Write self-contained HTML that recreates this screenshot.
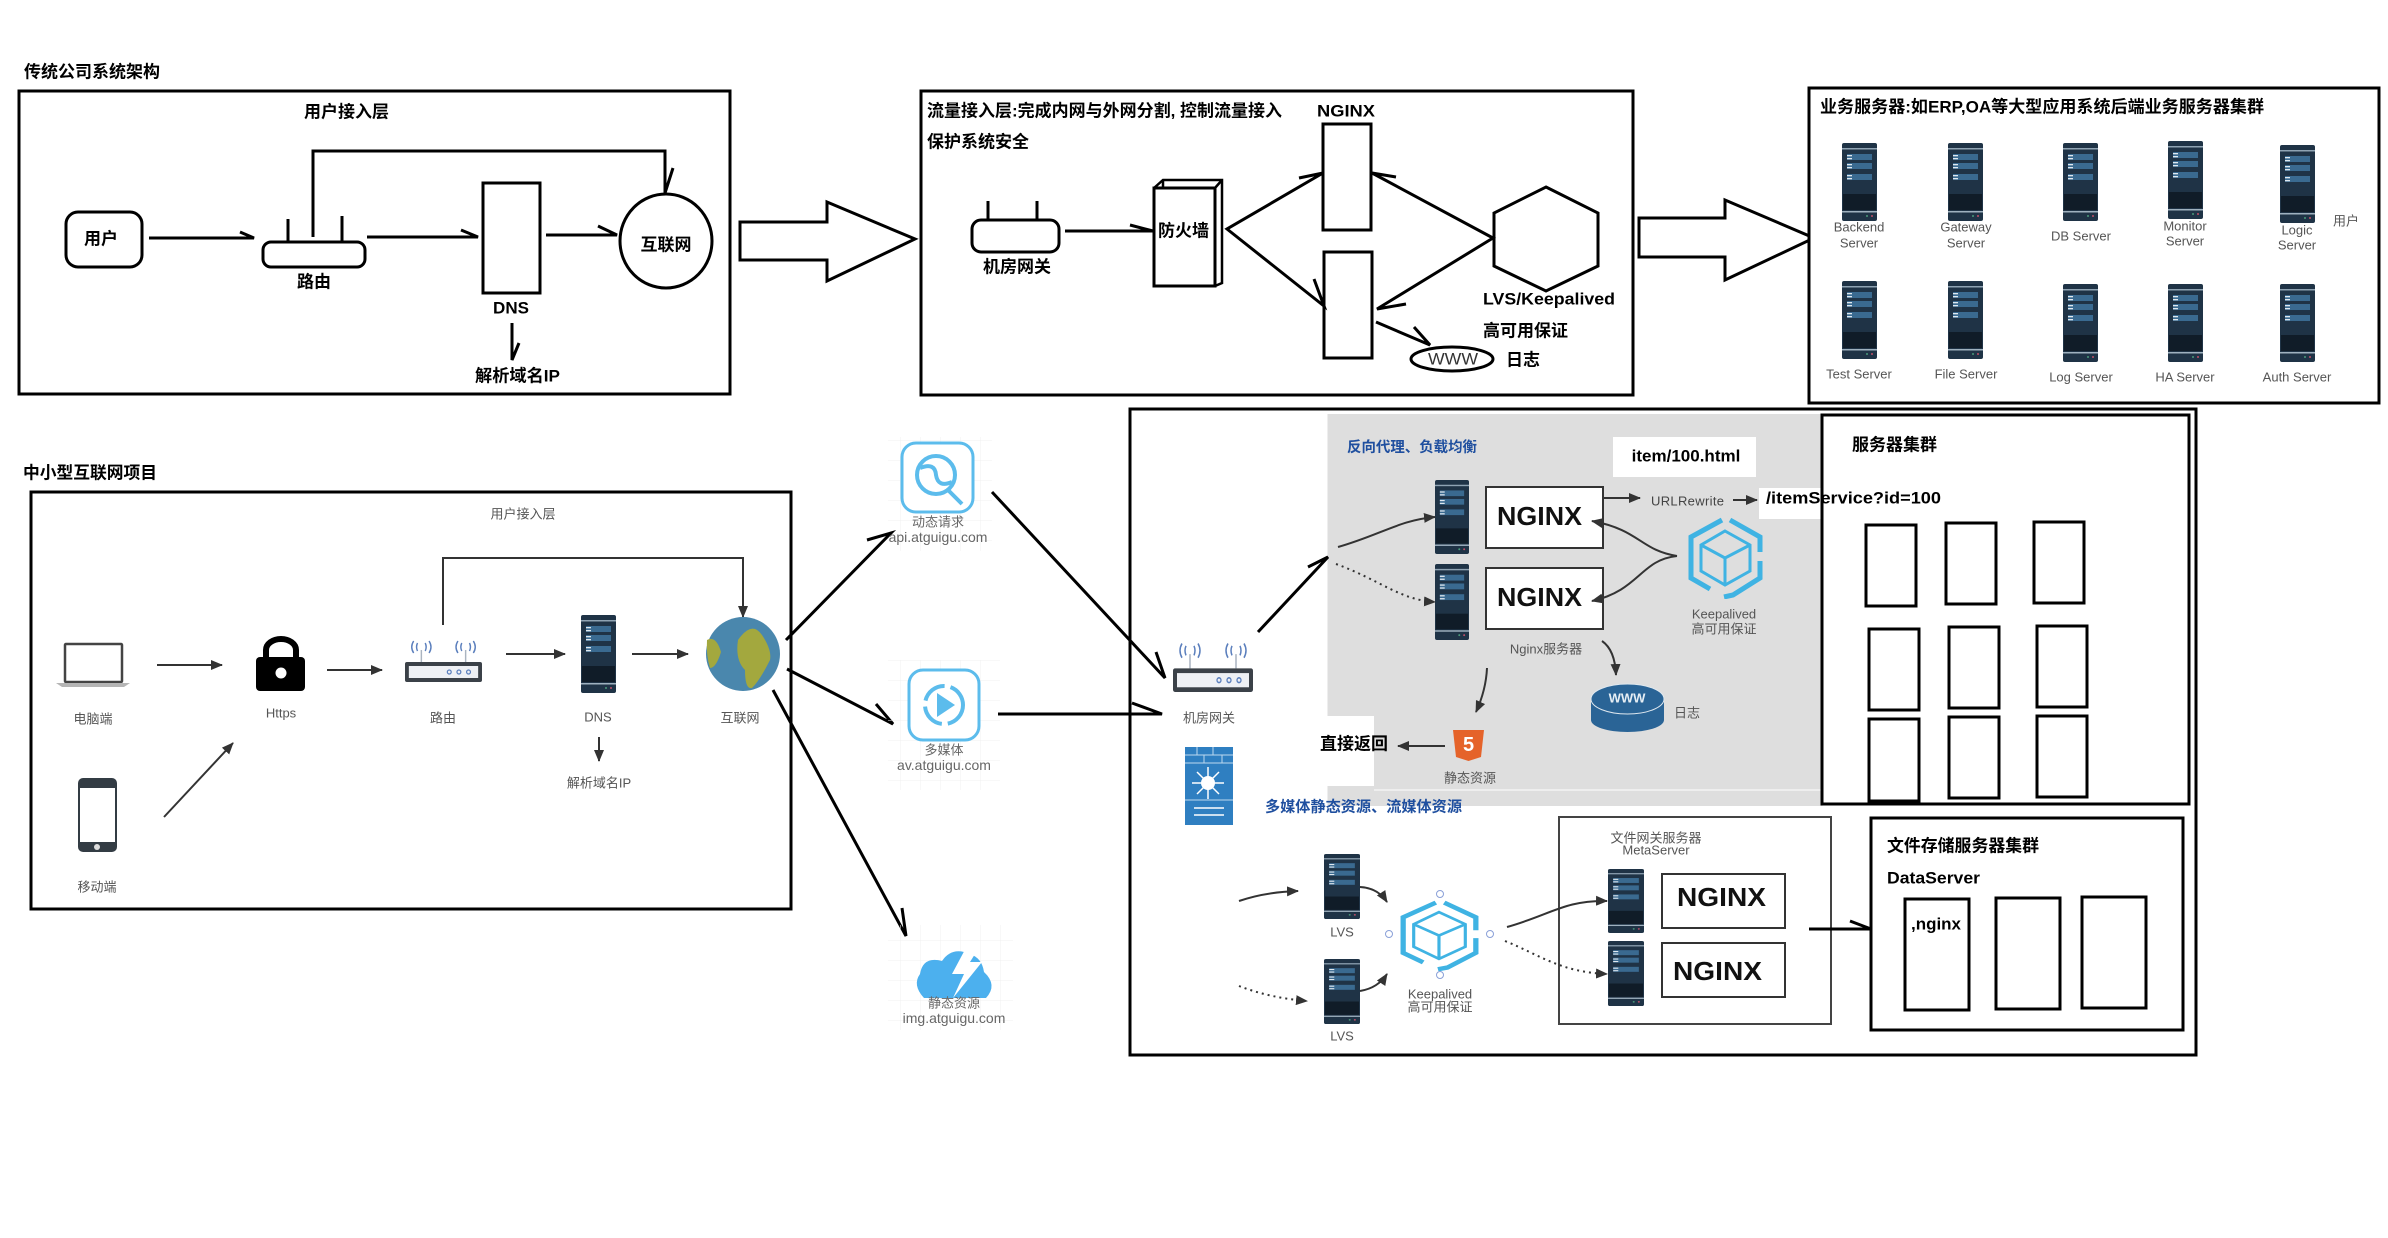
<!DOCTYPE html>
<html lang="zh">
<head>
<meta charset="utf-8">
<title>系统架构</title>
<style>
html,body{margin:0;padding:0;background:#fff;width:2388px;height:1238px;overflow:hidden}
svg{display:block}
text{font-family:"Liberation Sans","Noto Sans CJK SC",sans-serif;dominant-baseline:central}
.b{font-weight:700;font-size:17px;fill:#000}
.g{font-size:13px;fill:#555}
.m{text-anchor:middle}
.s{fill:#fff;stroke:#000;stroke-width:3}
.k{fill:none;stroke:#000;stroke-width:3}
.a{fill:none;stroke:#333;stroke-width:2}
.d{fill:none;stroke:#333;stroke-width:2;stroke-dasharray:2 4}
.ng{font-weight:700;font-size:26px;fill:#111}
</style>
</head>
<body>
<svg width="2388" height="1238" viewBox="0 0 2388 1238" xmlns="http://www.w3.org/2000/svg">
<defs>
<marker id="ah2" markerWidth="12" markerHeight="10" refX="11" refY="5" orient="auto" markerUnits="userSpaceOnUse" viewBox="0 0 12 10"><path d="M0 0L12 5L0 10Z" fill="#333"/></marker>
<pattern id="grid" width="20" height="20" patternUnits="userSpaceOnUse"><path d="M20 0H0V20" fill="none" stroke="#f0f0f0" stroke-width="1"/></pattern>
<symbol id="srv" viewBox="0 0 35 78" preserveAspectRatio="none">
<rect width="35" height="78" rx="2" fill="#1f3346"/>
<rect y="5" width="35" height="1.5" fill="#8fa3b3"/>
<rect x="5" y="11" width="25" height="6" fill="#3a6a90"/><rect x="5" y="20" width="25" height="6" fill="#3a6a90"/><rect x="5" y="31" width="25" height="6" fill="#3a6a90"/>
<rect x="5" y="12" width="5" height="1.3" fill="#dfe8ef"/><rect x="5" y="15" width="5" height="1.3" fill="#dfe8ef"/><rect x="5" y="21" width="5" height="1.3" fill="#dfe8ef"/><rect x="5" y="24" width="5" height="1.3" fill="#dfe8ef"/><rect x="5" y="32" width="5" height="1.3" fill="#dfe8ef"/><rect x="5" y="35" width="5" height="1.3" fill="#dfe8ef"/>
<rect x="1" y="51" width="33" height="16" fill="#101c28"/>
<rect y="68" width="35" height="1.5" fill="#9fb1bf"/>
<circle cx="25" cy="73" r="1" fill="#4a9a7a"/><circle cx="30" cy="73" r="1" fill="#c0506a"/>
</symbol>
<symbol id="hexk" viewBox="0 0 75 82" preserveAspectRatio="none">
<g fill="none" stroke="#3fb3e3" stroke-width="5">
<path d="M34 3L3 20V61L22 72M42 3L72 20V35M72 44V61L45 78L36 80"/>
<path d="M37 14L62 28V54L37 68L13 54V28Z" stroke-width="3"/>
<path d="M13 28L37 41L62 28M37 41V68" stroke-width="3"/>
</g>
</symbol>
<symbol id="router" viewBox="0 0 80 44" preserveAspectRatio="none">
<g fill="none" stroke="#aab4c0" stroke-width="1.5"><path d="M17 12V24M63 12V24"/></g>
<g fill="none" stroke="#5b7fbd" stroke-width="1.5"><path d="M13 5Q11 9 13 13M21 5Q23 9 21 13M9 3Q5 9 9 15M25 3Q29 9 25 15M59 5Q57 9 59 13M67 5Q69 9 67 13M55 3Q51 9 55 15M71 3Q75 9 71 15"/></g>
<rect y="24" width="80" height="20" rx="2" fill="#3b4148"/><rect x="4" y="28" width="72" height="12" fill="#eef0f4"/>
<g fill="none" stroke="#5b7fbd" stroke-width="1.3"><circle cx="46" cy="34" r="2"/><circle cx="56" cy="34" r="2"/><circle cx="66" cy="34" r="2"/></g>
</symbol>
</defs>

<!-- Box 1 -->
<text x="24" y="72" class="b" textLength="136" lengthAdjust="spacingAndGlyphs">传统公司系统架构</text>
<rect x="19" y="91" width="711" height="303" class="s"/>
<text x="304" y="112" class="b" textLength="85" lengthAdjust="spacingAndGlyphs">用户接入层</text>
<path d="M313 237V151H665V193L673 168" class="k"/>
<rect x="66" y="212" width="76" height="55" rx="12" class="s"/>
<text x="101" y="239" class="b m">用户</text>
<path d="M149 238H254L240 232" class="k"/>
<rect x="263" y="242" width="102" height="25" rx="8" class="s"/>
<path d="M288 219V242M342 216V242" class="k"/>
<text x="314" y="282" class="b m">路由</text>
<path d="M367 237H478L461 230" class="k"/>
<rect x="483" y="183" width="57" height="110" class="s"/>
<text x="511" y="308" class="b m">DNS</text>
<path d="M512 323V360L519 343" class="k"/>
<text x="475" y="376" class="b" textLength="85" lengthAdjust="spacingAndGlyphs">解析域名IP</text>
<path d="M546 235H617L598 226" class="k"/>
<ellipse cx="666" cy="241" rx="46" ry="47" class="s"/>
<text x="666" y="245" class="b m">互联网</text>
<path d="M740 222H827V202L915 239L827 281V260H740Z" class="s"/>

<!-- Box 2 -->
<rect x="921" y="91" width="712" height="304" class="s"/>
<text x="927" y="111" class="b" textLength="355" lengthAdjust="spacingAndGlyphs">流量接入层:完成内网与外网分割, 控制流量接入</text>
<text x="927" y="142" class="b">保护系统安全</text>
<text x="1317" y="111" class="b" textLength="58" lengthAdjust="spacingAndGlyphs">NGINX</text>
<rect x="1323" y="124" width="48" height="106" class="s"/>
<rect x="1324" y="252" width="48" height="106" class="s"/>
<path d="M1546 187L1598 213V266L1546 291L1494 266V213Z" class="s"/>
<text x="1483" y="299" class="b" textLength="132" lengthAdjust="spacingAndGlyphs">LVS/Keepalived</text>
<text x="1483" y="331" class="b">高可用保证</text>
<text x="1506" y="360" class="b">日志</text>
<ellipse cx="1452" cy="359" rx="41" ry="12" class="s"/>
<text x="1453" y="359" class="m" font-size="17" fill="#333" textLength="50" lengthAdjust="spacingAndGlyphs">WWW</text>
<rect x="972" y="220" width="87" height="32" rx="9" class="s"/>
<path d="M988 201V220M1037 201V220" class="k"/>
<text x="1017" y="267" class="b m">机房网关</text>
<path d="M1065 231H1153L1130 225" class="k"/>
<path d="M1154 188L1163 180H1222V283L1215 286" class="k" style="stroke-width:2.5"/>
<path d="M1215 188L1222 180M1163 180V188" class="k" style="stroke-width:2.5"/>
<rect x="1154" y="188" width="61" height="98" class="s"/>
<text x="1158" y="231" class="b" textLength="51" lengthAdjust="spacingAndGlyphs">防火墙</text>
<path d="M1299 178L1323 173L1227 229L1324 306L1314 279" class="k"/>
<path d="M1396 177L1372 173L1493 238L1377 309L1406 304" class="k"/>
<path d="M1376 322L1430 345L1414 327" class="k"/>
<path d="M1639 218H1725V200L1814 238L1725 280V257H1639Z" class="s"/>

<!-- Box 3 -->
<rect x="1809" y="88" width="570" height="315" class="s"/>
<text x="1820" y="107" class="b" textLength="444" lengthAdjust="spacingAndGlyphs">业务服务器:如ERP,OA等大型应用系统后端业务服务器集群</text>
<use href="#srv" x="1842" y="143" width="35" height="78"/>
<use href="#srv" x="1948" y="143" width="35" height="78"/>
<use href="#srv" x="2063" y="143" width="35" height="78"/>
<use href="#srv" x="2168" y="141" width="35" height="78"/>
<use href="#srv" x="2280" y="145" width="35" height="78"/>
<use href="#srv" x="1842" y="281" width="35" height="78"/>
<use href="#srv" x="1948" y="281" width="35" height="78"/>
<use href="#srv" x="2063" y="284" width="35" height="78"/>
<use href="#srv" x="2168" y="284" width="35" height="78"/>
<use href="#srv" x="2280" y="284" width="35" height="78"/>
<text x="1859" y="227" class="g m">Backend</text><text x="1859" y="243" class="g m">Server</text>
<text x="1966" y="227" class="g m">Gateway</text><text x="1966" y="243" class="g m">Server</text>
<text x="2081" y="236" class="g m">DB Server</text>
<text x="2185" y="226" class="g m">Monitor</text><text x="2185" y="241" class="g m">Server</text>
<text x="2297" y="230" class="g m">Logic</text><text x="2297" y="245" class="g m">Server</text>
<text x="2346" y="221" class="g m">用户</text>
<text x="1859" y="374" class="g m">Test Server</text>
<text x="1966" y="374" class="g m">File Server</text>
<text x="2081" y="377" class="g m">Log Server</text>
<text x="2185" y="377" class="g m">HA Server</text>
<text x="2297" y="377" class="g m">Auth Server</text>

<!-- Box 4 -->
<text x="23" y="473" class="b" textLength="134" lengthAdjust="spacingAndGlyphs">中小型互联网项目</text>
<rect x="31" y="492" width="760" height="417" class="s"/>
<text x="523" y="514" class="g m">用户接入层</text>
<rect x="65" y="644" width="57" height="38" rx="1" fill="#fff" stroke="#444" stroke-width="2.5"/>
<path d="M56 683H130L124 687H62Z" fill="#b5b5b5"/>
<text x="93" y="719" class="g m">电脑端</text>
<path d="M157 665H222" class="a" marker-end="url(#ah2)"/>
<rect x="256" y="657" width="49" height="34" rx="4" fill="#000"/>
<path d="M266 658V650A15 11 0 0 1 296 650V658" fill="none" stroke="#000" stroke-width="6"/>
<circle cx="281" cy="673" r="5.5" fill="#fff"/>
<text x="281" y="713" class="g m">Https</text>
<path d="M327 670H382" class="a" marker-end="url(#ah2)"/>
<use href="#router" x="405" y="638" width="77" height="44"/>
<text x="443" y="718" class="g m">路由</text>
<path d="M443 625V558H743V617" class="a" marker-end="url(#ah2)"/>
<path d="M506 654H565" class="a" marker-end="url(#ah2)"/>
<use href="#srv" x="581" y="615" width="35" height="78"/>
<text x="598" y="717" class="g m">DNS</text>
<path d="M599 737V761" class="a" marker-end="url(#ah2)"/>
<text x="599" y="783" class="g m">解析域名IP</text>
<path d="M632 654H688" class="a" marker-end="url(#ah2)"/>
<circle cx="743" cy="654" r="37" fill="#4a87ad"/>
<path d="M738 640Q752 620 762 635Q772 650 770 660Q760 680 752 688Q745 690 745 670Q735 660 738 640Z" fill="#a3a83e"/>
<path d="M707 640Q716 635 721 652Q716 668 710 668Q706 655 707 640Z" fill="#a3a83e"/>
<text x="740" y="718" class="g m">互联网</text>
<rect x="78" y="778" width="39" height="74" rx="5" fill="#333c44"/>
<rect x="80" y="788" width="35" height="54" fill="#fff"/>
<circle cx="97" cy="847" r="3" fill="#ddd"/>
<text x="97" y="887" class="g m">移动端</text>
<path d="M164 817L233 743" class="a" marker-end="url(#ah2)"/>

<path d="M786 640L891 533L867 540" class="k"/>
<path d="M787 669L893 724L876 704" class="k"/>
<path d="M773 690L906 936L902 908" class="k"/>

<!-- Middle icons -->
<rect x="888" y="437" width="104" height="114" fill="url(#grid)"/>
<rect x="888" y="660" width="112" height="130" fill="url(#grid)"/>
<rect x="888" y="925" width="125" height="105" fill="url(#grid)"/>
<rect x="902" y="443" width="71" height="69" rx="14" fill="#fff" stroke="#5cbcec" stroke-width="3"/>
<circle cx="936" cy="475" r="19" fill="none" stroke="#5cbcec" stroke-width="4"/>
<path d="M920 468Q935 462 936 475Q938 488 952 482M948 490L962 504" fill="none" stroke="#5cbcec" stroke-width="4"/>
<text x="938" y="522" class="m" font-size="13" fill="#666">动态请求</text>
<text x="938" y="537" class="m" font-size="14" fill="#666">api.atguigu.com</text>
<rect x="909" y="670" width="70" height="70" rx="14" fill="#fff" stroke="#5cbcec" stroke-width="3"/>
<circle cx="944" cy="705" r="19" fill="none" stroke="#5cbcec" stroke-width="4" stroke-dasharray="26 6"/>
<path d="M937 693L955 705L937 717Z" fill="#5cbcec"/>
<text x="944" y="750" class="m" font-size="13" fill="#666">多媒体</text>
<text x="944" y="765" class="m" font-size="14" fill="#666">av.atguigu.com</text>
<path d="M924 998Q912 985 920 974Q923 956 942 961Q952 946 970 954Q982 958 984 972Q998 985 986 998Z" fill="#4cb0ee"/>
<path d="M968 944L952 974H964L953 998L982 962H970L980 946Z" fill="#fff"/>
<text x="954" y="1003" class="m" font-size="13" fill="#666">静态资源</text>
<text x="954" y="1018" class="m" font-size="14" fill="#666">img.atguigu.com</text>

<!-- Box 5 -->
<rect x="1130" y="409" width="1066" height="646" fill="none" stroke="#000" stroke-width="3"/>
<path d="M992 492L1165 678L1156 652" class="k"/>
<path d="M998 714H1162L1132 703" class="k"/>
<use href="#router" x="1173" y="640" width="80" height="52"/>
<text x="1209" y="718" class="g m">机房网关</text>
<rect x="1185" y="747" width="48" height="78" fill="#2f7fc1"/>
<path d="M1185 755H1233M1185 763H1233M1197 747V755M1213 747V755M1222 755V763M1204 755V763M1185 800H1233" stroke="#bcd8ee" stroke-width="1"/>
<circle cx="1208" cy="783" r="7" fill="#fff"/>
<path d="M1192 783H1224M1208 767V799M1197 772L1219 794M1219 772L1197 794M1194 808H1224M1194 815H1224" stroke="#fff" stroke-width="1.5"/>

<!-- Gray panel -->
<rect x="1327.5" y="414" width="495" height="392" fill="#dedede"/>
<rect x="1310" y="716" width="64" height="70" fill="#fff"/>
<path d="M1374 790H1822" stroke="#fff" stroke-width="1"/>
<path d="M1258 632L1328 557L1308 567" class="k"/>
<text x="1347" y="448" font-size="14.5" font-weight="700" fill="#1f4f9f" textLength="130" lengthAdjust="spacingAndGlyphs">反向代理、负载均衡</text>
<rect x="1613" y="437" width="143" height="40" fill="#fff"/>
<text x="1686" y="456" class="b m">item/100.html</text>
<use href="#srv" x="1435" y="480" width="34" height="74"/>
<use href="#srv" x="1435" y="564" width="34" height="76"/>
<rect x="1486" y="487" width="117" height="61" fill="#fff" stroke="#333" stroke-width="2"/>
<rect x="1486" y="568" width="117" height="61" fill="#fff" stroke="#333" stroke-width="2"/>
<text x="1497" y="516" class="ng" textLength="85" lengthAdjust="spacingAndGlyphs">NGINX</text>
<text x="1497" y="597" class="ng" textLength="85" lengthAdjust="spacingAndGlyphs">NGINX</text>
<path d="M1603 498H1640" class="a" marker-end="url(#ah2)"/>
<text x="1651" y="501" font-size="13" fill="#444" textLength="73">URLRewrite</text>
<path d="M1733 500H1757" class="a" marker-end="url(#ah2)"/>
<use href="#hexk" x="1688" y="517" width="75" height="82"/>
<text x="1724" y="614" class="g m">Keepalived</text>
<text x="1724" y="629" class="g m">高可用保证</text>
<path d="M1677 556C1640 550 1640 530 1592 521" class="a" marker-end="url(#ah2)"/>
<path d="M1677 556C1640 560 1640 590 1592 601" class="a" marker-end="url(#ah2)"/>
<path d="M1338 547C1380 535 1400 520 1435 517" class="a" marker-end="url(#ah2)"/>
<path d="M1336 564C1380 580 1400 600 1435 602" class="d" marker-end="url(#ah2)"/>
<text x="1546" y="649" class="g m">Nginx服务器</text>
<path d="M1602 641Q1615 650 1616 675" class="a" marker-end="url(#ah2)"/>
<path d="M1487 668Q1486 690 1476 712" class="a" marker-end="url(#ah2)"/>
<path d="M1591 700V720A36.5 12 0 0 0 1664 720V700Z" fill="#2a6496"/>
<ellipse cx="1627.5" cy="699" rx="36.5" ry="15" fill="#2a6496" stroke="#dfe8ef" stroke-width="1"/>
<text x="1627" y="698" class="m" font-size="13" font-weight="700" fill="#e6eef4">WWW</text>
<text x="1687" y="713" class="g m">日志</text>
<path d="M1453 730H1484L1481 757L1468.5 761L1456 757Z" fill="#e5632a"/>
<text x="1468.5" y="745" class="m" font-size="20" font-weight="700" fill="#fff">5</text>
<text x="1470" y="778" class="g m">静态资源</text>
<path d="M1445 746H1398" class="a" marker-end="url(#ah2)"/>
<text x="1320" y="744" class="b" textLength="68" lengthAdjust="spacingAndGlyphs">直接返回</text>
<text x="1265" y="807" font-size="15" font-weight="700" fill="#1f4f9f" textLength="197" lengthAdjust="spacingAndGlyphs">多媒体静态资源、流媒体资源</text>

<!-- Cluster -->
<rect x="1822" y="415" width="367" height="389" fill="#fff" stroke="#000" stroke-width="3"/>
<rect x="1759" y="488" width="63" height="31" fill="#fff"/>
<text x="1766" y="498" class="b" textLength="175" lengthAdjust="spacingAndGlyphs">/itemService?id=100</text>
<path d="M1822 415V804" stroke="#000" stroke-width="3"/>
<text x="1852" y="445" class="b" textLength="85" lengthAdjust="spacingAndGlyphs">服务器集群</text>
<rect x="1866" y="525" width="50" height="81" class="s"/>
<rect x="1946" y="523" width="50" height="81" class="s"/>
<rect x="2034" y="522" width="50" height="81" class="s"/>
<rect x="1869" y="629" width="50" height="81" class="s"/>
<rect x="1949" y="627" width="50" height="81" class="s"/>
<rect x="2037" y="626" width="50" height="81" class="s"/>
<rect x="1869" y="719" width="50" height="82" class="s"/>
<rect x="1949" y="717" width="50" height="81" class="s"/>
<rect x="2037" y="716" width="50" height="81" class="s"/>

<!-- File storage -->
<rect x="1871" y="818" width="312" height="212" class="s"/>
<text x="1887" y="846" class="b" textLength="152" lengthAdjust="spacingAndGlyphs">文件存储服务器集群</text>
<text x="1887" y="878" class="b" textLength="93" lengthAdjust="spacingAndGlyphs">DataServer</text>
<rect x="1905" y="899" width="64" height="111" class="s"/>
<rect x="1996" y="898" width="64" height="111" class="s"/>
<rect x="2082" y="897" width="64" height="111" class="s"/>
<text x="1911" y="924" class="b" textLength="50" lengthAdjust="spacingAndGlyphs">,nginx</text>

<!-- Lower gateway group -->
<rect x="1559" y="817" width="272" height="207" fill="#fff" stroke="#444" stroke-width="2"/>
<text x="1656" y="838" class="g m">文件网关服务器</text>
<text x="1656" y="850" class="g m">MetaServer</text>
<path d="M1809 929H1871L1850 921" class="k"/>
<use href="#srv" x="1324" y="854" width="36" height="65"/>
<use href="#srv" x="1324" y="959" width="36" height="65"/>
<text x="1342" y="932" class="g m">LVS</text>
<text x="1342" y="1036" class="g m">LVS</text>
<path d="M1239 901Q1265 892 1298 891" class="a" marker-end="url(#ah2)"/>
<path d="M1239 986Q1270 998 1307 1001" class="d" marker-end="url(#ah2)"/>
<path d="M1360 887Q1378 888 1387 902" class="a" marker-end="url(#ah2)"/>
<path d="M1360 991Q1378 988 1387 974" class="a" marker-end="url(#ah2)"/>
<use href="#hexk" x="1400" y="900" width="79" height="71"/>
<g fill="#fff" stroke="#8aa0d8" stroke-width="1"><circle cx="1440" cy="894" r="3.5"/><circle cx="1440" cy="975" r="3.5"/><circle cx="1490" cy="934" r="3.5"/><circle cx="1389" cy="934" r="3.5"/></g>
<text x="1440" y="994" class="g m">Keepalived</text>
<text x="1440" y="1007" class="g m">高可用保证</text>
<path d="M1507 927C1550 915 1565 900 1607 901" class="a" marker-end="url(#ah2)"/>
<path d="M1505 941C1540 955 1560 972 1607 974" class="d" marker-end="url(#ah2)"/>
<use href="#srv" x="1608" y="869" width="36" height="64"/>
<use href="#srv" x="1608" y="941" width="36" height="65"/>
<rect x="1662" y="874" width="123" height="54" fill="#fff" stroke="#333" stroke-width="2"/>
<rect x="1662" y="943" width="123" height="54" fill="#fff" stroke="#333" stroke-width="2"/>
<text x="1677" y="897" class="ng" textLength="89" lengthAdjust="spacingAndGlyphs">NGINX</text>
<text x="1673" y="971" class="ng" textLength="89" lengthAdjust="spacingAndGlyphs">NGINX</text>
</svg>
</body>
</html>
